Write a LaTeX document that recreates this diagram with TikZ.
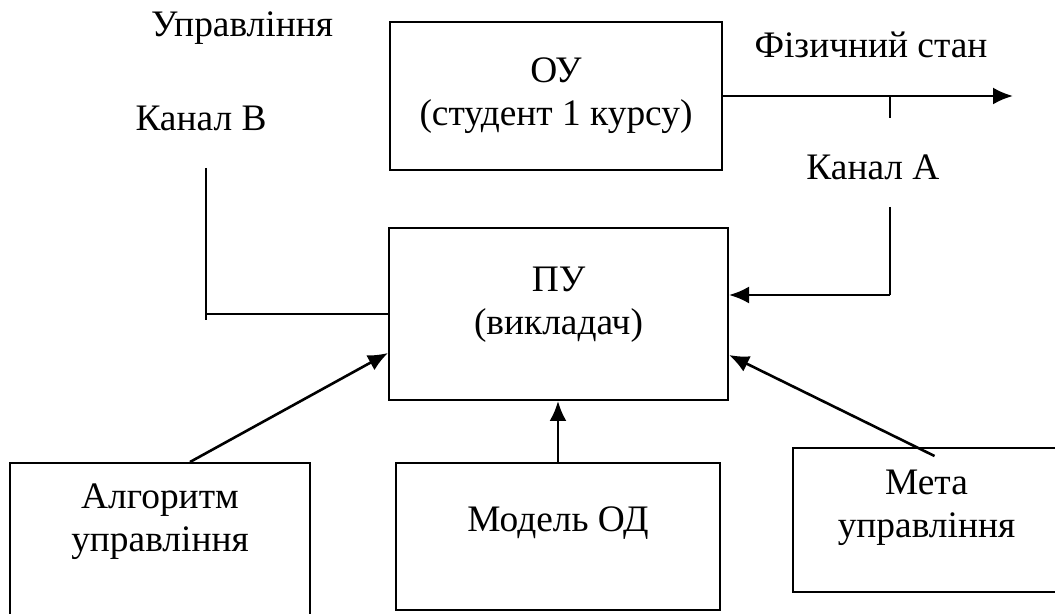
\documentclass[tikz,border=0pt]{standalone}
\usepackage{fontspec}
\setmainfont{Liberation Serif}
\usetikzlibrary{positioning,arrows.meta,calc}
\tikzset{
  every node/.style={font=\fontsize{18.7}{21.5}\selectfont},
  % --- nodes
  blk/.style = {draw, line width=1pt, align=center, inner sep=0pt},
  lbl/.style = {inner sep=0pt, align=center},
  % --- edges
  e/.style   = {-{Latex[length=10pt,width=8.5pt]}, line width=1.3pt},
  ln/.style  = {line width=1.1pt},
}
\begin{document}
\begin{tikzpicture}[x=0.5pt,y=-0.5pt]
  \useasboundingbox (0,0) rectangle (1055,614);
  \clip (0,0) rectangle (1055,614);
  \node[blk, minimum width=166pt, minimum height=74pt] (ou) at (556,96) {ОУ\\(студент 1 курсу)};
  \node[blk, minimum width=169.5pt, minimum height=86pt, text depth=13pt] (pu) at (558.5,314) {ПУ\\(викладач)};
  \node[blk, minimum width=150pt, minimum height=77.5pt, text depth=23pt] (alg) at (160,540.5) {Алгоритм\\управління};
  \node[blk, minimum width=162pt, minimum height=73.5pt, text depth=17pt] (mod) at (558,536.5) {Модель ОД};
  \node[blk, minimum width=133.5pt, minimum height=72pt, text depth=16.5pt] (meta) at (926.5,520) {Мета\\управління};
  \node[lbl] (upr) at (242,28) {Управління};
  \node[lbl] (kb) at (201,118) {Канал В};
  \node[lbl] (fiz) at (871,45) {Фізичний стан};
  \node[lbl] (ka) at (873,167) {Канал А};
  % channel A
  \coordinate (out) at (1013,96);
  \coordinate (ta) at (890,96);
  \coordinate (tb) at (890,118);
  \coordinate (fa) at (890,207);
  \coordinate (fb) at (890,295);
  \draw[e] (ou.east) -- (out);
  \draw[ln] (ta) -- (tb);
  \draw[ln] (fa) -- (fb);
  \draw[e] (fb) -- (fb -| pu.east);
  % channel B
  \coordinate (ba) at (206,168);
  \coordinate (bb) at (206,320);
  \draw[ln] (ba) -- (bb);
  \draw[ln] (ba |- pu.west) -- (pu.west);
  % inputs
  \draw[e] ([xshift=15pt]alg.north) -- ([yshift=-19.5pt]pu.west);
  \draw[e] (mod.north) -- (mod.north |- pu.south);
  \draw[e] ([xshift=4pt,yshift=-4.5pt]meta.north) -- ([yshift=-20.5pt]pu.east);
\end{tikzpicture}
\end{document}
